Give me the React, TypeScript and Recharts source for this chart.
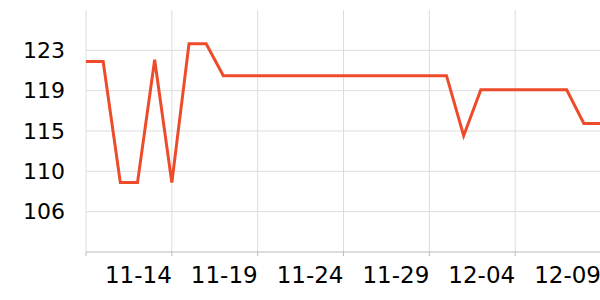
import React from 'react';
import { LineChart, Line, XAxis, YAxis, ReferenceLine } from 'recharts';

// daily closing values, 11-09 .. 12-09
const dates = [
  '11-09', '11-10', '11-11', '11-12', '11-13', '11-14', '11-15', '11-16',
  '11-17', '11-18', '11-19', '11-20', '11-21', '11-22', '11-23', '11-24',
  '11-25', '11-26', '11-27', '11-28', '11-29', '11-30', '12-01', '12-02',
  '12-03', '12-04', '12-05', '12-06', '12-07', '12-08', '12-09',
];
const values = [
  122.0, 122.0, 109.1, 109.1, 122.2, 109.1, 123.9, 123.9,
  120.5, 120.5, 120.5, 120.5, 120.5, 120.5, 120.5, 120.5,
  120.5, 120.5, 120.5, 120.5, 120.5, 120.5, 114.1, 119.0,
  119.0, 119.0, 119.0, 119.0, 119.0, 115.4, 115.4,
];
// grid columns (the 12-09 one sits on the right edge, off canvas)
const gridDates = ['11-09', '11-14', '11-19', '11-24', '11-29', '12-04'];
const yTicks = [106.0, 110.3, 114.6, 118.9, 123.2];
const yDomain = [101.7, 127.5];

const data = dates.map((d, i) => ({ date: d, value: values[i] }));

const FONT = '"DejaVu Sans", sans-serif';
const GRID = '#dddddd';

const XTick = (props: any) => {
  const { x, y, payload, index } = props;
  if (index === 0) return null;
  return (
    <text x={x} y={y} dy="0.71em" textAnchor="end" fontFamily={FONT} fontSize={23} fill="#000">
      {payload.value}
    </text>
  );
};

const App: React.FC = () => {
  return (
    <div style={{ position: 'absolute', left: 0, top: 0, width: 600, height: 300, overflow: 'hidden', background: '#fff' }}>
      <LineChart width={601} height={300} data={data} margin={{ top: 10, right: 0, bottom: 0, left: 0 }}>
        {gridDates.map((d) => (
          <ReferenceLine key={d} x={d} stroke={GRID} strokeWidth={1} />
        ))}
        {yTicks.map((t) => (
          <ReferenceLine key={t} y={t} stroke={GRID} strokeWidth={1} />
        ))}
        <XAxis
          dataKey="date"
          interval={4}
          height={48}
          tick={<XTick />}
          tickSize={4}
          tickMargin={11}
          axisLine={{ stroke: '#bbbbbb' }}
          tickLine={{ stroke: '#bbbbbb' }}
        />
        <YAxis
          width={86}
          domain={yDomain}
          ticks={yTicks}
          allowDataOverflow
          axisLine={false}
          tickLine={false}
          tickSize={0}
          tickMargin={21}
          tickFormatter={(v: number) => String(Math.round(v))}
          tick={{ fontFamily: FONT, fontSize: 22, fill: '#000' }}
        />
        <Line
          type="linear"
          dataKey="value"
          stroke="#ee4b2b"
          strokeWidth={3}
          dot={false}
          isAnimationActive={false}
        />
      </LineChart>
    </div>
  );
};

export default App;
